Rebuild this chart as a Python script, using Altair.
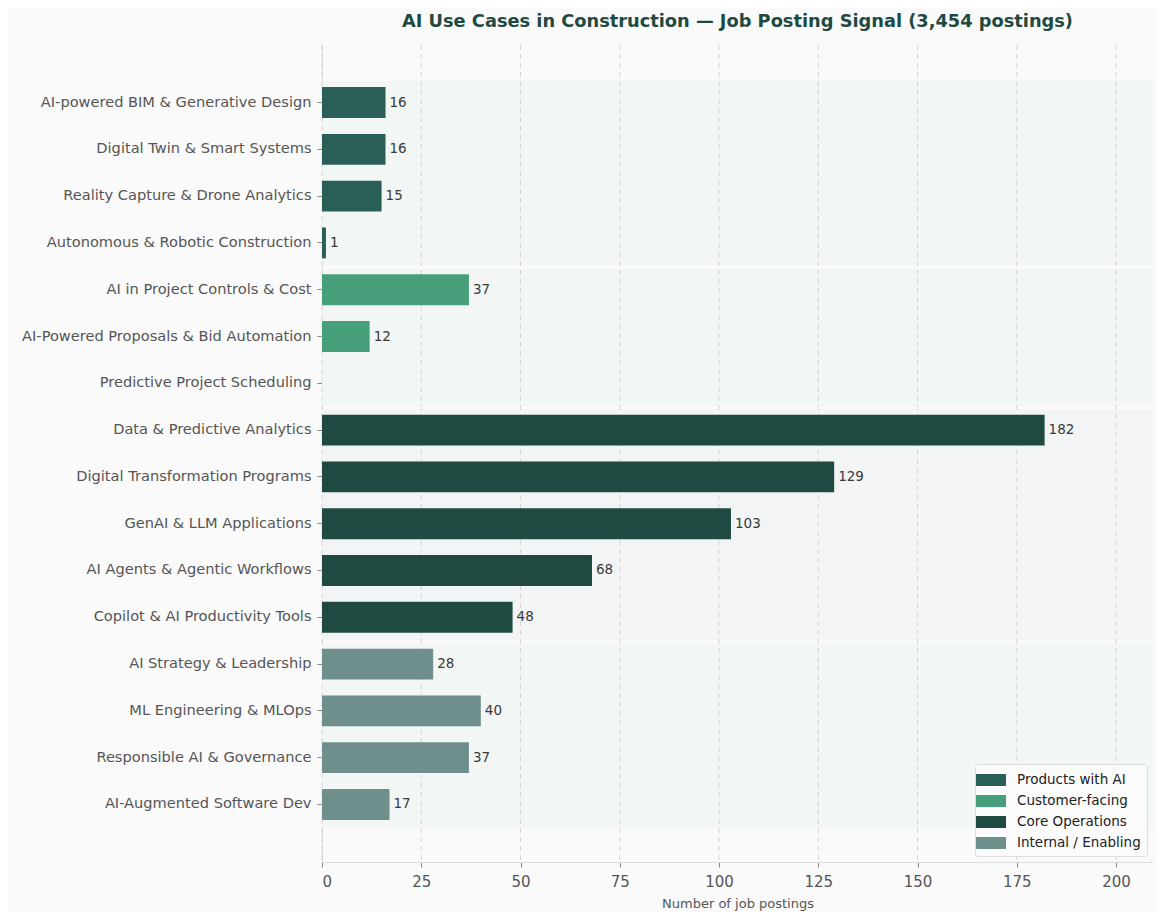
import altair as alt
import pandas as pd

categories = [
    "AI-powered BIM & Generative Design",
    "Digital Twin & Smart Systems",
    "Reality Capture & Drone Analytics",
    "Autonomous & Robotic Construction",
    "AI in Project Controls & Cost",
    "AI-Powered Proposals & Bid Automation",
    "Predictive Project Scheduling",
    "Data & Predictive Analytics",
    "Digital Transformation Programs",
    "GenAI & LLM Applications",
    "AI Agents & Agentic Workflows",
    "Copilot & AI Productivity Tools",
    "AI Strategy & Leadership",
    "ML Engineering & MLOps",
    "Responsible AI & Governance",
    "AI-Augmented Software Dev",
]
values = [16, 16, 15, 1, 37, 12, 0, 182, 129, 103, 68, 48, 28, 40, 37, 17]
groups = (["Products with AI"] * 4 + ["Customer-facing"] * 3
          + ["Core Operations"] * 5 + ["Internal / Enabling"] * 4)

group_names = ["Products with AI", "Customer-facing", "Core Operations", "Internal / Enabling"]
group_colors = ["#2a5f58", "#469e7a", "#1f4a42", "#6e8f8b"]
group_start = [0, 4, 7, 12]
group_end = [3, 6, 11, 15]
band_tint = ["green", "green", "gray", "green"]
grid_ticks = [0, 25, 50, 75, 100, 125, 150, 175, 200]

df = pd.DataFrame({"cat": categories, "val": values, "grp": groups})
bands = pd.DataFrame({
    "g": group_names,
    "y0": [s - 0.46 for s in group_start],
    "y1": [e + 0.46 for e in group_end],
    "tint": band_tint,
})
grid_df = pd.DataFrame({"t": grid_ticks})

XMAX = 209.3
xscale = alt.Scale(domain=[0, XMAX], nice=False, zero=True)
yscale = alt.Scale(domain=categories, paddingInner=0.34, paddingOuter=0.9)
bgscale = alt.Scale(domain=[-1.23, 16.19], reverse=True, nice=False, zero=False)

FONT = "DejaVu Sans"

bg_green = alt.Chart(bands).transform_filter("datum.tint == 'green'").mark_rect(
    fill="#f2f6f4", strokeWidth=0
).encode(
    x=alt.value(0), x2=alt.value(831),
    y=alt.Y("y0:Q", scale=bgscale, axis=None), y2="y1:Q",
)
bg_gray = alt.Chart(bands).transform_filter("datum.tint == 'gray'").mark_rect(
    fill="#f2f4f5", strokeWidth=0
).encode(
    x=alt.value(0), x2=alt.value(831),
    y=alt.Y("y0:Q", scale=bgscale, axis=None), y2="y1:Q",
)
bg = alt.layer(bg_green, bg_gray)

grid = alt.Chart(grid_df).mark_rule(color="#d4d4d4", strokeDash=[5, 4], strokeWidth=1).encode(
    x=alt.X("t:Q", scale=xscale),
    y=alt.value(0),
    y2=alt.value(817),
)

bars = alt.Chart(df).mark_bar(cornerRadius=0).encode(
    y=alt.Y("cat:N", scale=yscale, sort=categories, title=None,
            axis=alt.Axis(labelFont=FONT, labelFontSize=14.6, labelColor="#555555",
                          tickColor="#888888", tickSize=5, domainColor="#dddddd",
                          labelPadding=6, labelLimit=400, grid=False)),
    x=alt.X("val:Q", scale=xscale, title="Number of job postings",
            axis=alt.Axis(values=grid_ticks, grid=False, labelFont=FONT, labelFontSize=15,
                          labelColor="#555555", tickColor="#888888", tickSize=5,
                          domainColor="#dddddd", titleFont=FONT, titleFontSize=13,
                          titleColor="#555555", titleFontWeight="normal", titlePadding=8,
                          labelPadding=7)),
    color=alt.Color("grp:N", scale=alt.Scale(domain=group_names, range=group_colors),
                    legend=alt.Legend(title=None, orient="bottom-right", offset=6,
                                      symbolType="M-1.5,-0.6H1.5V0.6H-1.5Z", symbolSize=400,
                                      symbolStrokeWidth=0, symbolOpacity=1,
                                      labelFont=FONT, labelFontSize=13.5, labelColor="#222222",
                                      fillColor="#fbfbfb", strokeColor="#dddddd",
                                      cornerRadius=3, padding=6, rowPadding=4,
                                      labelOffset=16)),
)

labels = alt.Chart(df).transform_filter("datum.val > 0").mark_text(
    align="left", baseline="middle", dx=4, font=FONT, fontSize=13.5, color="#3a3a3a"
).encode(
    y=alt.Y("cat:N", scale=yscale, sort=categories),
    x=alt.X("val:Q", scale=xscale),
    text="val:Q",
)

front = alt.layer(grid, bars, labels)

chart = alt.layer(bg, front).resolve_scale(y="independent").properties(
    width=831,
    height=817,
    padding={"left": 314, "top": 37, "right": 4, "bottom": 50},
    autosize="none",
    background="#fafafa",
    title=alt.TitleParams(
        "AI Use Cases in Construction \u2014 Job Posting Signal (3,454 postings)",
        font=FONT, fontSize=17.8, fontWeight="bold", color="#1f4a42",
        anchor="middle", frame="group", offset=14,
    ),
).configure_view(stroke=None, fill="#fafafa")

chart.save("out.html", embed_options={"renderer": "svg", "actions": False})
